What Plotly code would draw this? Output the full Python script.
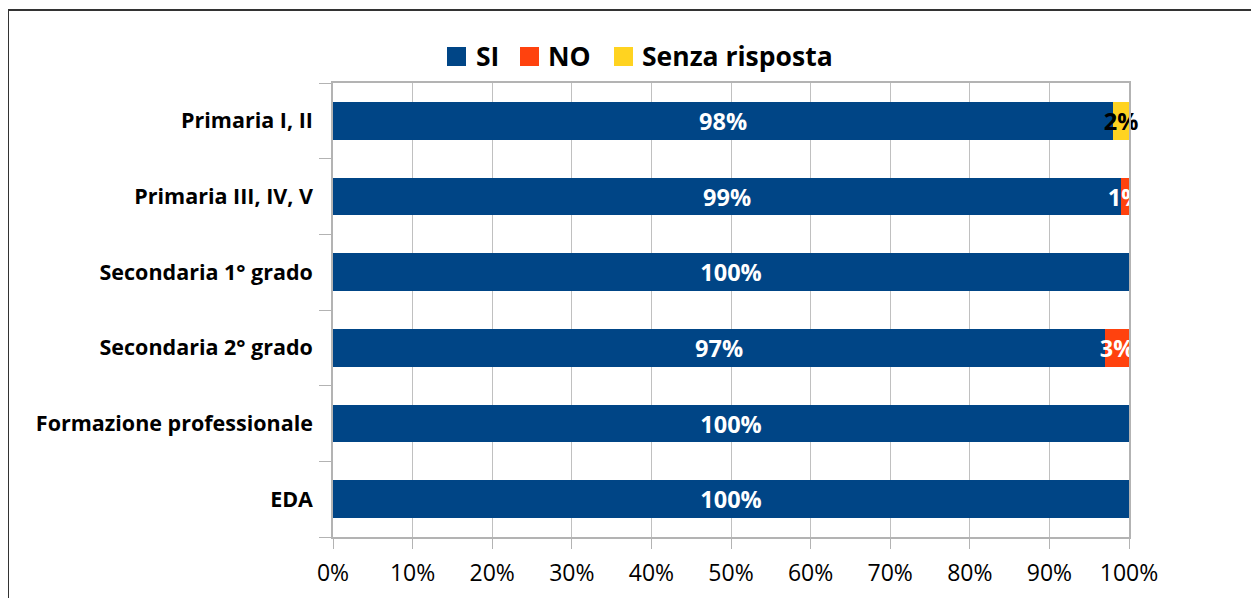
import plotly.graph_objects as go

categories = ["Primaria I, II", "Primaria III, IV, V", "Secondaria 1° grado",
              "Secondaria 2° grado", "Formazione professionale", "EDA"]
si = [0.98, 0.99, 1.00, 0.97, 1.00, 1.00]
no = [0.00, 0.01, 0.00, 0.03, 0.00, 0.00]
senza = [0.02, 0.00, 0.00, 0.00, 0.00, 0.00]
tick_vals = [0, 0.1, 0.2, 0.3, 0.4, 0.5, 0.6, 0.7, 0.8, 0.9, 1.0]
tick_text = ["0%", "10%", "20%", "30%", "40%", "50%", "60%", "70%", "80%", "90%", "100%"]

FONT = "Open Sans"

def labels(vals):
    return [f"{round(v*100)}%" if v > 0 else "" for v in vals]

series = [
    ("SI", si, "#004586", "white"),
    ("NO", no, "#FF420E", "white"),
    ("Senza risposta", senza, "#FFD320", "black"),
]

fig = go.Figure()
for name, vals, color, tcolor in series:
    fig.add_trace(go.Bar(
        y=categories, x=vals, name=name, orientation="h",
        marker=dict(color=color, line=dict(width=0)),
        text=labels(vals), textposition="inside", insidetextanchor="middle",
        textangle=0, constraintext="none", cliponaxis=False,
        textfont=dict(family=FONT, size=23.5, color=tcolor, weight="bold"),
        hoverinfo="skip", showlegend=False,
    ))

# page body has an 8px offset
OFF = 8
W, H = 1259, 598
L = 333 - OFF
T = 83 - OFF
R = W - (1129 - OFF)
B = H - (537 - OFF)
pw, ph = W - L - R, H - T - B

def px_x(p):
    return (p - OFF - L) / pw

def px_y(p):
    return (H - B - (p - OFF)) / ph

# legend drawn as swatches + labels (larger swatches than plotly's legend allows)
legend_items = [(447, 474), (520, 546), (614, 640)]
for (sx, tx), (name, vals, color, tcolor) in zip(legend_items, series):
    fig.add_shape(type="rect", xref="paper", yref="paper",
                  x0=px_x(sx), x1=px_x(sx + 19), y0=px_y(66), y1=px_y(47),
                  fillcolor=color, line=dict(width=0))
    fig.add_annotation(xref="paper", yref="paper", x=px_x(tx), y=px_y(56),
                       xanchor="left", yanchor="middle", showarrow=False,
                       text=name, font=dict(family=FONT, size=26.5, weight="bold", color="black"))

fig.update_layout(
    width=W, height=H, barmode="stack", bargap=0.5,
    margin=dict(l=L, r=R, t=T, b=B),
    paper_bgcolor="white", plot_bgcolor="white",
    font=dict(family=FONT, color="black"),
    showlegend=False,
    xaxis=dict(range=[0, 1], tickvals=tick_vals, ticktext=tick_text,
               showgrid=True, gridcolor="#c0c0c0", gridwidth=1,
               showline=True, linecolor="#b3b3b3", linewidth=1.5, mirror=True,
               ticks="outside", ticklen=10, tickcolor="#b3b3b3",
               tickfont=dict(family=FONT, size=23), ticklabelstandoff=5,
               zeroline=False, fixedrange=True),
    yaxis=dict(categoryorder="array", categoryarray=categories[::-1],
               showline=True, linecolor="#b3b3b3", linewidth=1.5, mirror=True,
               ticks="outside", ticklen=12, tickcolor="#b3b3b3", tickson="boundaries",
               tickfont=dict(family=FONT, size=21.5, weight="bold"), ticklabelstandoff=14,
               showgrid=False, fixedrange=True),
)

# outer chart frame (partially visible, extending beyond the page)
fig.add_shape(type="line", xref="paper", yref="paper", x0=px_x(8), x1=px_x(1300),
              y0=px_y(10), y1=px_y(10), line=dict(color="#333333", width=2))
fig.add_shape(type="line", xref="paper", yref="paper", x0=px_x(8), x1=px_x(8),
              y0=px_y(10), y1=px_y(640), line=dict(color="#333333", width=2))

fig.write_html("out.html")
